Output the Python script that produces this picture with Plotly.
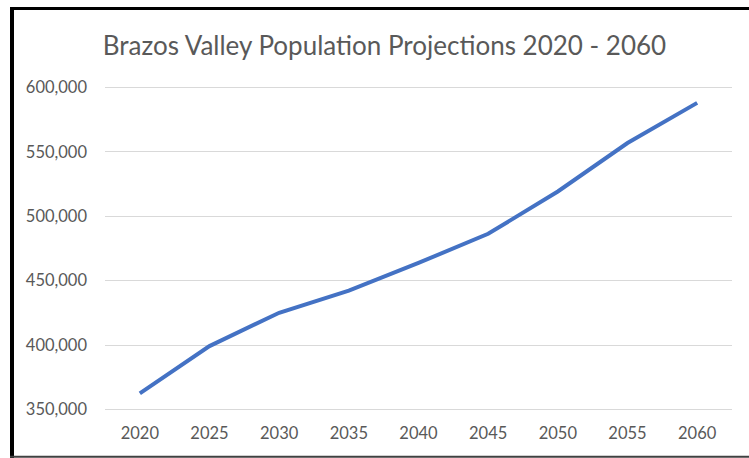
import plotly.graph_objects as go

years = [2020, 2025, 2030, 2035, 2040, 2045, 2050, 2055, 2060]
population = [362400, 399200, 425100, 442300, 463800, 486400, 519300, 556900, 588100]
y_ticks = [350000, 400000, 450000, 500000, 550000, 600000]
y_tick_labels = ["350,000", "400,000", "450,000", "500,000", "550,000", "600,000"]

W, H = 749, 458
ml, mr, mt, mb = 105, 17, 85.4, 46.1

fig = go.Figure()
fig.add_trace(go.Scatter(
    x=years, y=population, mode="lines",
    line=dict(color="#4472C4", width=4),
    hoverinfo="x+y",
))

pw = W - ml - mr
ph = H - mt - mb
def px_x(p):
    return (p - ml) / pw
def px_y(p):
    return (H - mb - p) / ph

shapes = [
    dict(type="line", xref="paper", yref="paper", x0=px_x(10), x1=px_x(749), y0=px_y(9), y1=px_y(9),
         line=dict(color="black", width=3)),
    dict(type="line", xref="paper", yref="paper", x0=px_x(12), x1=px_x(12), y0=px_y(8), y1=px_y(458),
         line=dict(color="black", width=4)),
    dict(type="line", xref="paper", yref="paper", x0=px_x(10), x1=px_x(749), y0=px_y(456.5), y1=px_y(456.5),
         line=dict(color="#404040", width=2)),
]

fig.update_layout(
    width=W, height=H,
    margin=dict(l=ml, r=mr, t=mt, b=mb, pad=0),
    paper_bgcolor="white", plot_bgcolor="white",
    showlegend=False,
    title=dict(
        text="Brazos Valley Population Projections 2020 - 2060",
        x=384.5 / W, xanchor="center",
        y=1 - 46 / H, yanchor="middle",
        font=dict(family="Lato", size=26, color="#595959"),
    ),
    shapes=shapes,
    font=dict(family="Lato", size=16.5, color="#595959"),
)
fig.update_xaxes(
    range=[2017.5, 2062.5], tickvals=years, ticktext=[str(y) for y in years],
    showgrid=False, zeroline=False, showline=False, ticks="",
    ticklabelstandoff=9, tickfont=dict(size=16.5, color="#595959"),
    fixedrange=True,
)
fig.update_yaxes(
    range=[348000, 602000], tickvals=y_ticks, ticktext=y_tick_labels,
    showgrid=True, gridcolor="#D9D9D9", gridwidth=1.3, zeroline=False, showline=False, ticks="",
    ticklabelstandoff=17, tickfont=dict(size=16.5, color="#595959"),
    fixedrange=True,
)
fig.write_html(
    "out.html",
    config={"displayModeBar": False},
    post_script="document.body.style.margin='0';document.body.style.overflow='hidden';",
)
